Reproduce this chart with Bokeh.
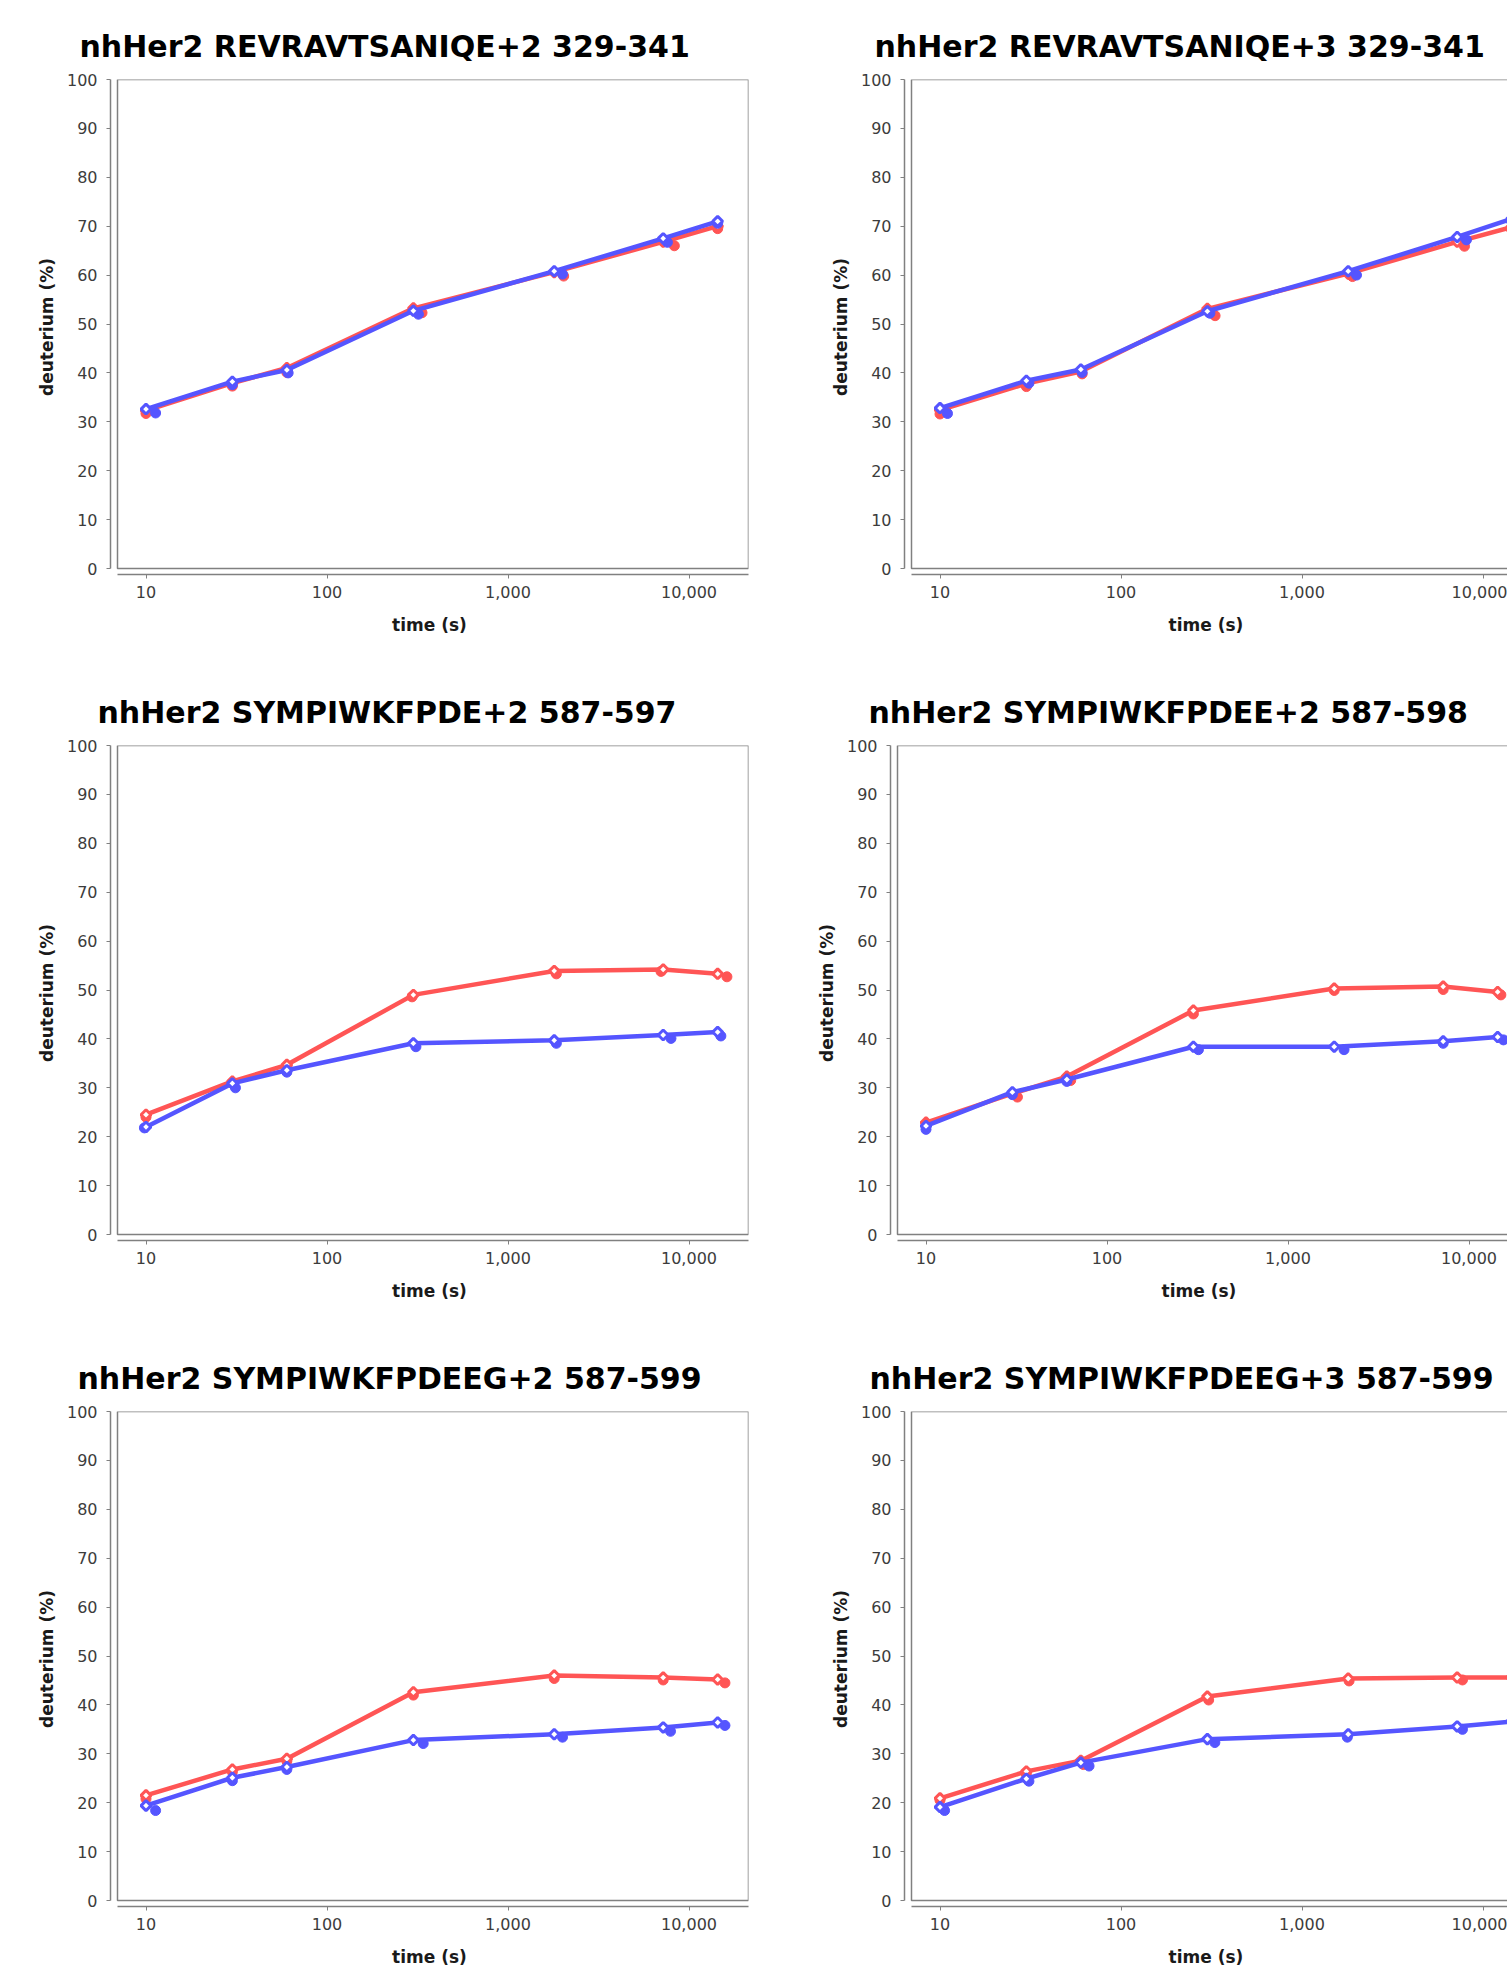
import numpy as np
from bokeh.plotting import figure
from bokeh.layouts import column, row
from bokeh.models import Range1d, FixedTicker, NumeralTickFormatter, BoxAnnotation
from bokeh.embed import file_html
from bokeh.resources import INLINE

# ---------------- data ----------------
TIMES = [10, 30, 60, 300, 1800, 7200, 14400]
X_TICKS = [10, 100, 1000, 10000]
Y_TICKS = [0, 10, 20, 30, 40, 50, 60, 70, 80, 90, 100]

TITLES = [
    "nhHer2 REVRAVTSANIQE+2 329-341",
    "nhHer2 REVRAVTSANIQE+3 329-341",
    "nhHer2 SYMPIWKFPDE+2 587-597",
    "nhHer2 SYMPIWKFPDEE+2 587-598",
    "nhHer2 SYMPIWKFPDEEG+2 587-599",
    "nhHer2 SYMPIWKFPDEEG+3 587-599",
]

P1_RED_MEAN = [32.3, 37.9, 41.0, 53.2, 60.6, 66.8, 70.0]
P1_RED_REP_T = [10, 30, 60, 335, 2030, 8300, 14400]
P1_RED_REP = [31.7, 37.3, 40.1, 52.3, 59.8, 66.0, 69.5]
P1_BLUE_MEAN = [32.6, 38.2, 40.6, 52.7, 60.8, 67.5, 71.0]
P1_BLUE_REP_T = [11.3, 30, 61, 320, 2000, 7600, 14400]
P1_BLUE_REP = [31.8, 37.6, 40.0, 52.0, 60.2, 66.7, 70.6]

P2_RED_MEAN = [32.4, 37.8, 40.3, 53.1, 60.3, 66.8, 69.8]
P2_RED_REP_T = [10, 30, 61, 331, 1900, 7900, 14400]
P2_RED_REP = [31.6, 37.2, 39.8, 51.7, 59.7, 65.9, 69.3]
P2_BLUE_MEAN = [32.8, 38.4, 40.7, 52.6, 60.8, 67.8, 71.5]
P2_BLUE_REP_T = [11, 31, 61, 310, 2000, 8100, 14400]
P2_BLUE_REP = [31.7, 37.9, 40.1, 52.2, 60.0, 67.2, 71.0]

P3_RED_MEAN = [24.5, 31.3, 34.7, 49.0, 53.9, 54.2, 53.3]
P3_RED_REP_T = [10, 30, 60, 295, 1850, 7000, 16200]
P3_RED_REP = [24.0, 30.9, 34.2, 48.6, 53.3, 53.8, 52.7]
P3_BLUE_MEAN = [22.0, 30.9, 33.6, 39.1, 39.7, 40.8, 41.4]
P3_BLUE_REP_T = [9.8, 31.2, 60, 310, 1850, 7950, 15000]
P3_BLUE_REP = [21.8, 30.0, 33.2, 38.4, 39.1, 40.1, 40.6]

P4_RED_MEAN = [22.9, 28.8, 32.3, 45.8, 50.3, 50.7, 49.6]
P4_RED_REP_T = [10, 32, 63, 300, 1800, 7200, 15000]
P4_RED_REP = [22.3, 28.1, 31.5, 45.1, 49.9, 50.1, 49.0]
P4_BLUE_MEAN = [22.2, 29.1, 31.7, 38.4, 38.4, 39.5, 40.4]
P4_BLUE_REP_T = [10, 30, 60, 320, 2040, 7200, 15500]
P4_BLUE_REP = [21.5, 28.6, 31.3, 37.8, 37.8, 39.1, 39.8]

P5_RED_MEAN = [21.5, 26.8, 29.0, 42.6, 46.0, 45.6, 45.2]
P5_RED_REP_T = [10, 30, 60, 300, 1800, 7200, 15800]
P5_RED_REP = [20.8, 26.3, 28.5, 42.0, 45.4, 45.1, 44.5]
P5_BLUE_MEAN = [19.4, 25.1, 27.3, 32.8, 34.0, 35.4, 36.4]
P5_BLUE_REP_T = [11.3, 30, 60, 340, 2000, 7900, 15800]
P5_BLUE_REP = [18.4, 24.5, 26.8, 32.1, 33.4, 34.6, 35.8]

P6_RED_MEAN = [20.9, 26.4, 28.6, 41.7, 45.4, 45.6, 45.6]
P6_RED_REP_T = [10, 30, 62, 305, 1820, 7700, 15000]
P6_RED_REP = [20.5, 25.8, 27.8, 41.0, 44.9, 45.1, 45.2]
P6_BLUE_MEAN = [19.1, 24.9, 28.2, 33.0, 34.0, 35.6, 36.6]
P6_BLUE_REP_T = [10.6, 31, 66.6, 330, 1780, 7700, 15000]
P6_BLUE_REP = [18.4, 24.4, 27.5, 32.3, 33.4, 35.0, 36.0]

# ---------------- style / layout ----------------
RED = "#FF5555"
BLUE = "#5555FF"
AXIS_GRAY = "#808080"
TOP = 79            # canvas top -> frame top
FRAME_H = 495       # frame height (plot box + axis gap)
DECADE = 181.0      # px per decade
TEN_OFFSET = 35.5   # px from frame left to x=10
BOX_DX = 7          # plot box left edge offset from y-axis line
AX_GAP = 6          # plot box bottom to x-axis line
LEFT_W = 792
RIGHT_W = 1507 - LEFT_W
ROW_H = [666, 666, 1973 - 2 * 666]


def make_panel(title, title_dx, red_mean, red_rep_t, red_rep, blue_mean, blue_rep_t,
               blue_rep, width, height, b_left, b_right, cut_right):
    b_bottom = height - TOP - FRAME_H
    frame_w = width - b_left - b_right
    x0 = 10 ** (1 - TEN_OFFSET / DECADE)
    x1 = 10 ** (1 + (frame_w - TEN_OFFSET) / DECADE)
    box_left = 10 ** (1 + (BOX_DX - TEN_OFFSET) / DECADE)
    ppu = (FRAME_H - AX_GAP) / 100.0
    y0 = -AX_GAP / ppu

    p = figure(width=width, height=height, x_axis_type="log",
               x_range=Range1d(x0, x1), y_range=Range1d(y0, 100),
               output_backend="svg", toolbar_location=None,
               min_border_left=b_left, min_border_right=b_right,
               min_border_top=TOP, min_border_bottom=b_bottom,
               title=title)
    p.title.text_font = "DejaVu Sans"
    p.title.text_font_style = "bold"
    p.title.text_font_size = "30px"
    p.title.text_color = "#000000"
    p.title.align = "left"
    p.title.offset = title_dx
    p.title.standoff = 31

    p.background_fill_color = "white"
    p.border_fill_color = "white"
    p.outline_line_color = None
    p.xgrid.visible = False
    p.ygrid.visible = False

    p.xaxis.axis_label = "time (s)"
    p.yaxis.axis_label = "deuterium (%)"
    for ax in (p.xaxis[0], p.yaxis[0]):
        ax.axis_line_color = AXIS_GRAY
        ax.axis_line_width = 1.5
        ax.major_tick_line_color = AXIS_GRAY
        ax.minor_tick_line_color = None
        ax.major_tick_out = 4
        ax.major_tick_in = 0
        ax.major_label_text_font = "DejaVu Sans"
        ax.major_label_text_font_size = "16px"
        ax.major_label_text_color = "#3c3c3c"
        ax.axis_label_text_font = "DejaVu Sans"
        ax.axis_label_text_font_size = "17px"
        ax.axis_label_text_font_style = "bold"
        ax.axis_label_text_color = "#1a1a1a"
    p.xaxis.ticker = FixedTicker(ticks=X_TICKS)
    p.xaxis.formatter = NumeralTickFormatter(format="0,0")
    p.yaxis.ticker = FixedTicker(ticks=Y_TICKS)
    p.xaxis.bounds = (box_left, x1)
    p.yaxis.bounds = (0, 100)
    p.xaxis.major_label_standoff = 7
    p.yaxis.major_label_standoff = 9
    p.xaxis.axis_label_standoff = 14
    p.yaxis.axis_label_standoff = 7

    box = BoxAnnotation(left=box_left, right=(x1 * 10 if cut_right else x1),
                        bottom=0, top=100, fill_color=None, fill_alpha=0,
                        line_color=AXIS_GRAY, line_alpha=1.0, line_width=1.5,
                        level="underlay")
    p.add_layout(box)

    for color, mean, rep_t, rep in ((RED, red_mean, red_rep_t, red_rep),
                                    (BLUE, blue_mean, blue_rep_t, blue_rep)):
        p.scatter(rep_t, rep, marker="circle", size=10, fill_color=color,
                  line_color=color, line_width=1)
        p.line(TIMES, mean, line_color=color, line_width=4.5, line_join="round")
        p.scatter(TIMES, mean, marker="square", angle=np.pi / 4, size=7,
                  fill_color="white", line_color=color, line_width=3)
    return p


# offsets: page x of the reference title left edge minus page x of frame left
p1 = make_panel(TITLES[0], 79 - 110, P1_RED_MEAN, P1_RED_REP_T, P1_RED_REP,
                P1_BLUE_MEAN, P1_BLUE_REP_T, P1_BLUE_REP,
                LEFT_W, ROW_H[0], 110, 44, False)
p2 = make_panel(TITLES[1], 874 - 904, P2_RED_MEAN, P2_RED_REP_T, P2_RED_REP,
                P2_BLUE_MEAN, P2_BLUE_REP_T, P2_BLUE_REP,
                RIGHT_W, ROW_H[0], 112, 0, True)
p3 = make_panel(TITLES[2], 97 - 110, P3_RED_MEAN, P3_RED_REP_T, P3_RED_REP,
                P3_BLUE_MEAN, P3_BLUE_REP_T, P3_BLUE_REP,
                LEFT_W, ROW_H[1], 110, 44, False)
p4 = make_panel(TITLES[3], 868 - 890, P4_RED_MEAN, P4_RED_REP_T, P4_RED_REP,
                P4_BLUE_MEAN, P4_BLUE_REP_T, P4_BLUE_REP,
                RIGHT_W, ROW_H[1], 98, 0, True)
p5 = make_panel(TITLES[4], 77 - 110, P5_RED_MEAN, P5_RED_REP_T, P5_RED_REP,
                P5_BLUE_MEAN, P5_BLUE_REP_T, P5_BLUE_REP,
                LEFT_W, ROW_H[2], 110, 44, False)
p6 = make_panel(TITLES[5], 869 - 904, P6_RED_MEAN, P6_RED_REP_T, P6_RED_REP,
                P6_BLUE_MEAN, P6_BLUE_REP_T, P6_BLUE_REP,
                RIGHT_W, ROW_H[2], 112, 0, True)

layout = column(row(p1, p2, spacing=0), row(p3, p4, spacing=0),
                row(p5, p6, spacing=0), spacing=0)

open("out.html", "w").write(file_html(layout, INLINE))
